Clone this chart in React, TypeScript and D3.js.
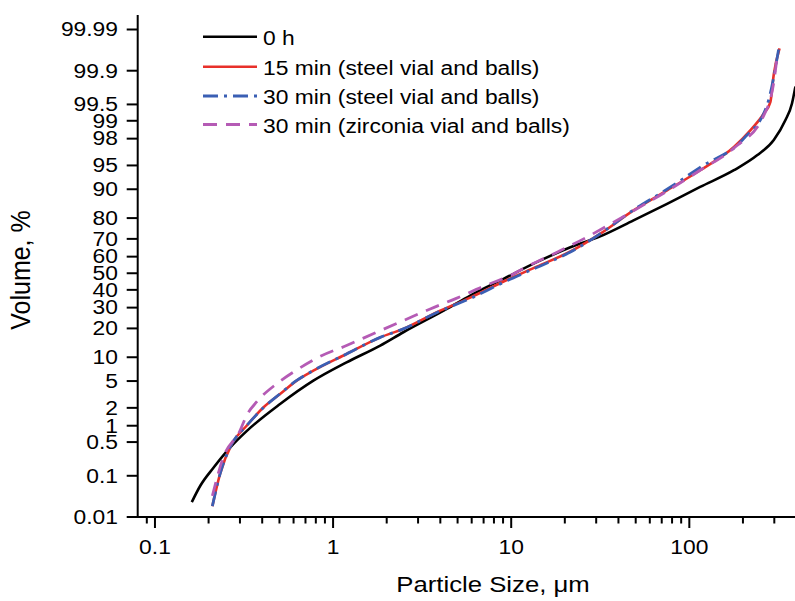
import React, { useRef, useEffect } from 'react';
import * as d3 from 'd3';

// particle size (um) / cumulative volume (%)
const size0h = [0.161, 0.18, 0.213, 0.264, 0.327, 0.504, 0.775, 1.19, 1.84, 2.48, 4.35, 5.89, 9.06, 13.9, 21.5, 31.6, 48.6, 75, 115, 178, 240, 298, 346, 377, 394];
const vol0h = [0.024, 0.06, 0.15, 0.39, 0.8, 2.3, 5.06, 8.7, 13.5, 18.4, 29.3, 36.7, 46.6, 56.7, 65.4, 71.3, 79, 85.5, 90.6, 94.2, 96.4, 97.9, 99.02, 99.52, 99.78];

const size15Steel = [0.21, 0.232, 0.27, 0.327, 0.406, 0.504, 0.625, 0.775, 1.19, 1.84, 2.48, 3.83, 5.89, 9.06, 13.9, 21.5, 32, 48.6, 75, 115, 178, 220, 262, 285, 298, 321];
const vol15Steel = [0.019, 0.11, 0.46, 1.0, 2.03, 3.27, 5.06, 6.85, 10.9, 16.4, 19.8, 27.6, 35.5, 45, 54, 63, 73, 83.1, 89.7, 94.2, 97.3, 98.54, 99.26, 99.55, 99.88, 99.97];

const size30Steel = [0.21, 0.232, 0.27, 0.327, 0.406, 0.504, 0.625, 0.775, 1.19, 1.84, 2.48, 3.83, 5.89, 9.06, 13.9, 21.5, 32, 48.6, 75, 115, 202, 273, 318];
const vol30Steel = [0.019, 0.11, 0.46, 1.0, 2.0, 3.3, 5.1, 6.9, 10.9, 16.4, 19.8, 27.5, 35, 44.5, 53.5, 62.7, 73, 83.3, 90, 94.7, 98.0, 99.48, 99.97];

const size30Zr = [0.21, 0.242, 0.3, 0.327, 0.373, 0.483, 0.625, 0.845, 1.19, 1.68, 2.48, 3.51, 4.84, 6.98, 9.86, 12.8, 18.1, 25.5, 37.6, 48.6, 75, 115, 178, 262, 300, 309];
const vol30Zr = [0.034, 0.25, 0.81, 1.5, 2.5, 4.6, 7.0, 10.2, 13.5, 17.8, 23.5, 29.3, 34.8, 42, 48.6, 55, 62.6, 70, 78.2, 83, 89.5, 94.2, 97.2, 99.2, 99.85, 99.94];

const legendLabels = ['0 h', '15 min (steel vial and balls)', '30 min (steel vial and balls)', '30 min (zirconia vial and balls)'];
const yTickValues = [0.01, 0.1, 0.5, 1, 2, 5, 10, 20, 30, 40, 50, 60, 70, 80, 90, 95, 98, 99, 99.5, 99.9, 99.99];
const xMajorTicks = [0.1, 1, 10, 100];
const xMinorTicks = [0.09, 0.2, 0.3, 0.4, 0.5, 0.6, 0.7, 0.8, 0.9, 2, 3, 4, 5, 6, 7, 8, 9, 20, 30, 40, 50, 60, 70, 80, 90, 200, 300];

// inverse normal cdf (Acklam)
function probit(p) {
    const a = [-3.969683028665376e+01, 2.209460984245205e+02, -2.759285104469687e+02, 1.383577518672690e+02, -3.066479806614716e+01, 2.506628277459239e+00];
    const b = [-5.447609879822406e+01, 1.615858368580409e+02, -1.556989798598866e+02, 6.680131188771972e+01, -1.328068155288572e+01];
    const c = [-7.784894002430293e-03, -3.223964580411365e-01, -2.400758277161838e+00, -2.549671010422024e+00, 4.374664141464968e+00, 2.938163982698783e+00];
    const d = [7.784695709041462e-03, 3.224671290700398e-01, 2.445134137142996e+00, 3.754408661907416e+00];
    const pl = 0.02425;
    if (p < pl) {
        const q = Math.sqrt(-2 * Math.log(p));
        return (((((c[0] * q + c[1]) * q + c[2]) * q + c[3]) * q + c[4]) * q + c[5]) / ((((d[0] * q + d[1]) * q + d[2]) * q + d[3]) * q + 1);
    }
    if (p <= 1 - pl) {
        const q = p - 0.5, r = q * q;
        return (((((a[0] * r + a[1]) * r + a[2]) * r + a[3]) * r + a[4]) * r + a[5]) * q / (((((b[0] * r + b[1]) * r + b[2]) * r + b[3]) * r + b[4]) * r + 1);
    }
    const q = Math.sqrt(-2 * Math.log(1 - p));
    return -(((((c[0] * q + c[1]) * q + c[2]) * q + c[3]) * q + c[4]) * q + c[5]) / ((((d[0] * q + d[1]) * q + d[2]) * q + d[3]) * q + 1);
}

const App = () => {

    const svgRef = useRef(null);

    useEffect(() => {

        const svg = d3.select(svgRef.current);
        svg.selectAll('*').remove();

        const font = "'Liberation Sans', Arial, sans-serif";
        const sx = 1.17; // text in the picture is a bit wide

        const xScale = d3.scaleLog().domain([0.08, 392]).range([137.7, 795]);
        const zScale = d3.scaleLinear().domain([-3.719, 3.719]).range([517, 29.5]);
        const yOf = (v) => zScale(probit(v / 100));

        const x0 = xScale.range()[0];
        const yBottom = yOf(0.01);

        const series = [
            { sizes: size0h, vols: vol0h, color: '#000000', dash: null, width: 2.6 },
            { sizes: size15Steel, vols: vol15Steel, color: '#e8302a', dash: null, width: 2.6 },
            { sizes: size30Steel, vols: vol30Steel, color: '#3a5fb4', dash: '15 6 3 6', width: 2.8 },
            { sizes: size30Zr, vols: vol30Zr, color: '#b55bb5', dash: '14 9', width: 2.8 },
        ];

        // axes
        svg.append('line')
            .attr('x1', x0).attr('x2', x0)
            .attr('y1', 15).attr('y2', yBottom)
            .attr('stroke', '#000').attr('stroke-width', 2);
        svg.append('line')
            .attr('x1', x0 - 1).attr('x2', 795)
            .attr('y1', yBottom).attr('y2', yBottom)
            .attr('stroke', '#000').attr('stroke-width', 2);

        yTickValues.forEach((v) => {
            const y = yOf(v);
            svg.append('line')
                .attr('x1', x0 - 11).attr('x2', x0)
                .attr('y1', y).attr('y2', y)
                .attr('stroke', '#000').attr('stroke-width', 2);
            svg.append('text')
                .attr('transform', `translate(118,${y}) scale(${sx},1)`)
                .attr('dy', '0.35em')
                .attr('text-anchor', 'end')
                .attr('font-family', font)
                .attr('font-size', 19.5)
                .text(String(v));
        });

        xMinorTicks.forEach((v) => {
            const x = xScale(v);
            svg.append('line')
                .attr('x1', x).attr('x2', x)
                .attr('y1', yBottom).attr('y2', yBottom + 6.5)
                .attr('stroke', '#000').attr('stroke-width', 2);
        });

        xMajorTicks.forEach((v) => {
            const x = xScale(v);
            svg.append('line')
                .attr('x1', x).attr('x2', x)
                .attr('y1', yBottom).attr('y2', yBottom + 11)
                .attr('stroke', '#000').attr('stroke-width', 2);
            svg.append('text')
                .attr('transform', `translate(${x},554) scale(${sx},1)`)
                .attr('text-anchor', 'middle')
                .attr('font-family', font)
                .attr('font-size', 19.5)
                .text(String(v));
        });

        svg.append('text')
            .attr('transform', `translate(493,592) scale(${sx},1)`)
            .attr('text-anchor', 'middle')
            .attr('font-family', font)
            .attr('font-size', 22)
            .text('Particle Size, \u03bcm');

        svg.append('text')
            .attr('transform', `translate(30,270) scale(1.1,1) rotate(-90)`)
            .attr('text-anchor', 'middle')
            .attr('font-family', font)
            .attr('font-size', 25)
            .text('Volume, %');

        // curves
        const line = d3.line()
            .x((d) => xScale(d[0]))
            .y((d) => yOf(d[1]))
            .curve(d3.curveMonotoneX);

        series.forEach((s) => {
            const pts = s.sizes.map((v, i) => [v, s.vols[i]]);
            const p = svg.append('path')
                .datum(pts)
                .attr('fill', 'none')
                .attr('stroke', s.color)
                .attr('stroke-width', s.width)
                .attr('d', line);
            if (s.dash) p.attr('stroke-dasharray', s.dash);
        });

        // legend
        const legendRows = [36.7, 66.7, 96, 124.5];
        legendLabels.forEach((label, i) => {
            const s = series[i];
            const ly = legendRows[i];
            const l = svg.append('line')
                .attr('x1', 203).attr('x2', 257)
                .attr('y1', ly).attr('y2', ly)
                .attr('stroke', s.color)
                .attr('stroke-width', s.width);
            if (s.dash) l.attr('stroke-dasharray', s.dash);
            svg.append('text')
                .attr('transform', `translate(263,${ly + 8}) scale(${sx},1)`)
                .attr('font-family', font)
                .attr('font-size', 19.5)
                .text(label);
        });

    }, []);

    return (
        <svg ref={svgRef} width={795} height={601}
            style={{ position: 'absolute', left: 0, top: 0, background: '#fff' }} />
    );
};

export default App;
